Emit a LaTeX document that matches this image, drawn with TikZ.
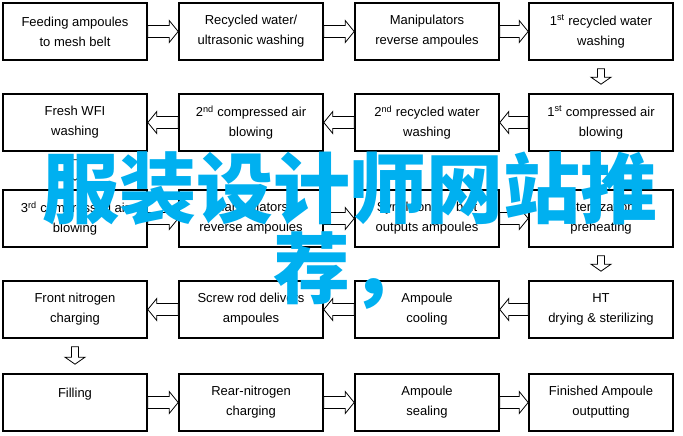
\documentclass[tikz,border=0pt]{standalone}
\usepackage{fontspec}
\setmainfont{Liberation Sans}
\newfontfamily\cjkfont{Noto Sans CJK SC}
\usetikzlibrary{calc}
\definecolor{cjkblue}{RGB}{0,176,240}
\tikzset{
  stepbox/.style={draw=black, line width=1.6pt, minimum width=144pt, minimum height=57pt,
    inner sep=0pt, align=center, font=\fontsize{13}{20}\selectfont},
  arrowline/.style={draw=black, line width=0.8pt, fill=white, line join=miter},
  bigtext/.style={text=cjkblue, inner sep=0pt, anchor=base, font=\cjkfont\bfseries\fontsize{77}{80}\selectfont}
}
% #1 start, #2 end, #3 shaft half width, #4 head half width, #5 head length
\newcommand\blkarrow[5]{%
  \path[arrowline]
    ($(#2)!#5!(#1)$) coordinate (bah)
    ($(#1)!#3!90:(#2)$) -- ($(bah)!#3!90:(#2)$) -- ($(bah)!#4!90:(#2)$) -- (#2)
    -- ($(bah)!#4!-90:(#2)$) -- ($(bah)!#3!-90:(#2)$) -- ($(#1)!#3!-90:(#2)$) -- cycle;}
\newcommand\harrow[2]{\blkarrow{#1}{#2}{6pt}{11pt}{9pt}}
\newcommand\varrow[2]{\blkarrow{#1}{#2}{3.5pt}{10pt}{7pt}}
\begin{document}
\begin{tikzpicture}[x=1pt,y=-1pt]
\fill[white] (0,0) rectangle (683,436);
\useasboundingbox (0,0) rectangle (683,436);
% row 1
\node[stepbox] (n1) at (75,31.5) {Feeding ampoules\\to mesh belt};
\node[stepbox] (n2) at (251,31.5) {Recycled water/\\ultrasonic washing};
\node[stepbox] (n3) at (427,31.5) {Manipulators\\reverse ampoules};
\node[stepbox] (n4) at (601,31.5) {1\textsuperscript{st} recycled water\\washing};
% row 2
\node[stepbox] (n5) at (75,122.5) {Fresh WFI\\washing};
\node[stepbox] (n6) at (251,122.5) {2\textsuperscript{nd} compressed air\\blowing};
\node[stepbox] (n7) at (427,122.5) {2\textsuperscript{nd} recycled water\\washing};
\node[stepbox] (n8) at (601,122.5) {1\textsuperscript{st} compressed air\\blowing};
% row 3
\node[stepbox] (n9) at (75,218.5) {3\textsuperscript{rd} compressed air\\blowing};
\node[stepbox] (n10) at (251,218.5) {Manipulators\\reverse ampoules};
\node[stepbox] (n11) at (427,218.5) {Synchronous belt\\outputs ampoules};
\node[stepbox] (n12) at (601,218.5) {Sterilization\\preheating};
% row 4
\node[stepbox] (n13) at (75,309.5) {Front nitrogen\\charging};
\node[stepbox] (n14) at (251,309.5) {Screw rod delivers\\ampoules};
\node[stepbox] (n15) at (427,309.5) {Ampoule\\cooling};
\node[stepbox] (n16) at (601,309.5) {HT\\drying \& sterilizing};
% row 5
\node[stepbox] (n17) at (75,402.5) {Filling\\\mbox{}};
\node[stepbox] (n18) at (251,402.5) {Rear-nitrogen\\charging};
\node[stepbox] (n19) at (427,402.5) {Ampoule\\sealing};
\node[stepbox] (n20) at (601,402.5) {Finished Ampoule\\outputting};
% vertical arrow ends
\coordinate (v1s) at ([yshift=-8pt]n4.south);  \coordinate (v1e) at ([yshift=9pt]n8.north);
\coordinate (v2s) at ([yshift=-8pt]n5.south);  \coordinate (v2e) at ([yshift=9pt]n9.north);
\coordinate (v3s) at ([yshift=-8pt]n12.south); \coordinate (v3e) at ([yshift=9pt]n16.north);
\coordinate (v4s) at ([yshift=-8pt]n13.south); \coordinate (v4e) at ([yshift=9pt]n17.north);
% arrows
\harrow{n1.east}{n2.west}
\harrow{n2.east}{n3.west}
\harrow{n3.east}{n4.west}
\varrow{v1s}{v1e}
\harrow{n8.west}{n7.east}
\harrow{n7.west}{n6.east}
\harrow{n6.west}{n5.east}
\varrow{v2s}{v2e}
\harrow{n9.east}{n10.west}
\harrow{n10.east}{n11.west}
\harrow{n11.east}{n12.west}
\varrow{v3s}{v3e}
\harrow{n16.west}{n15.east}
\harrow{n15.west}{n14.east}
\harrow{n14.west}{n13.east}
\varrow{v4s}{v4e}
\harrow{n17.east}{n18.west}
\harrow{n18.east}{n19.west}
\harrow{n19.east}{n20.west}
% overlay text
\node[bigtext] (cjk1) at (350,217) {服装设计师网站推};
\node[bigtext] (cjk2) at (350,297) {荐，};
\end{tikzpicture}
\end{document}
